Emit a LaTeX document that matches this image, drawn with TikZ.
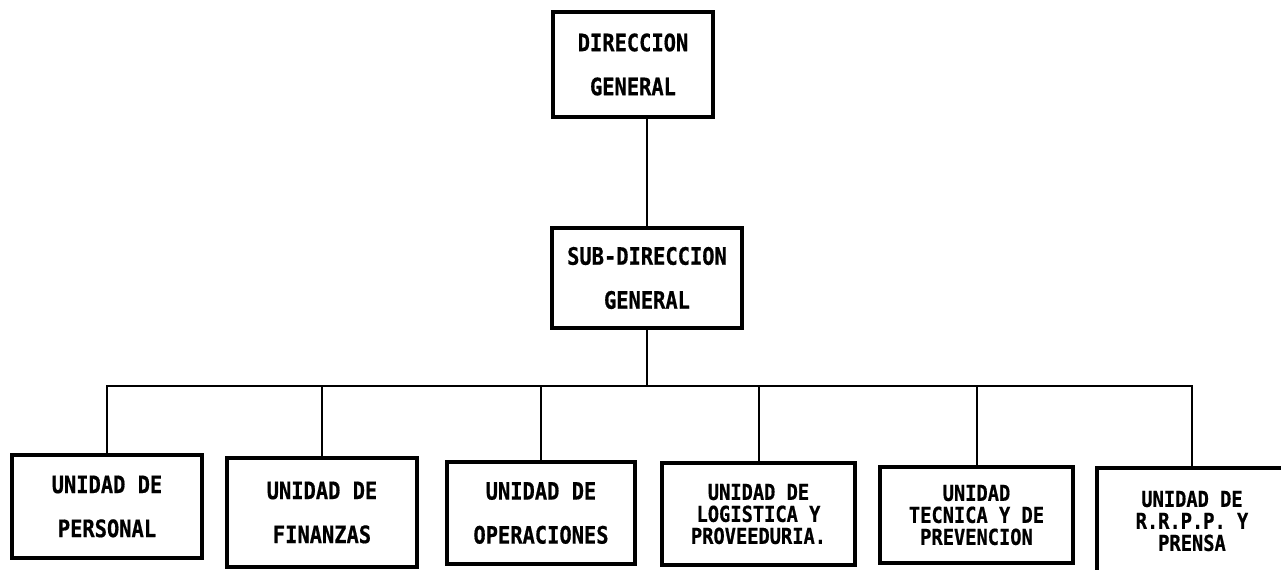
\documentclass[tikz,border=0pt]{standalone}
\usepackage{fontspec}
\newfontfamily\orgfont[FakeStretch=0.85,FakeBold=0.6]{DejaVu Sans Mono}
\usetikzlibrary{positioning}

\begin{document}
\begin{tikzpicture}[
  x=0.75pt, y=-0.75pt,
  font=\orgfont\bfseries\fontsize{18}{33}\selectfont,
  unit/.style  = {draw=black, line width=3pt, align=center, inner sep=0pt,
                  minimum width=142.5pt, minimum height=77pt},
  tight/.style = {unit, font=\orgfont\bfseries\fontsize{16.5}{16.5}\selectfont},
  link/.style  = {draw=black, line width=1.5pt},
]
\useasboundingbox (0,0) rectangle (1281,569);

% ---------- direction ----------
\node[unit, minimum width=120pt, minimum height=78.75pt] (dir) at (633,64.5)
  {DIRECCION\\GENERAL};
\node[unit, minimum height=75pt] (sub) at (647,278)
  {SUB-DIRECCION\\GENERAL};

% ---------- units ----------
\node[unit] (per) at (107,506.5) {UNIDAD DE\\PERSONAL};
\node[unit, minimum height=81.75pt] (fin) at (322,512.5) {UNIDAD DE\\FINANZAS};
\node[unit, minimum width=141pt] (ope) at (541,513) {UNIDAD DE\\OPERACIONES};
\node[tight, minimum width=144.75pt] (log) at (758.5,514)
  {UNIDAD DE\\LOGISTICA Y\\PROVEEDURIA.};
\node[tight, minimum width=144.75pt, minimum height=72pt] (tec) at (976.5,515)
  {UNIDAD\\TECNICA Y DE\\PREVENCION};
\node[tight, minimum height=80pt] (rrpp) at (1192,521)
  {UNIDAD DE\\R.R.P.P. Y\\PRENSA};

% ---------- lines ----------
\coordinate (bus) at (646,386);
\draw[link] (sub.north) -- (sub.north |- dir.south);
\draw[link] (sub.south) -- (sub.south |- bus);
\draw[link] (per.north) -- (per.north |- bus) -- (rrpp.north |- bus) -- (rrpp.north);
\foreach \u in {fin,ope,log,tec}
  \draw[link] (\u.north) -- (\u.north |- bus);

\end{tikzpicture}
\end{document}
